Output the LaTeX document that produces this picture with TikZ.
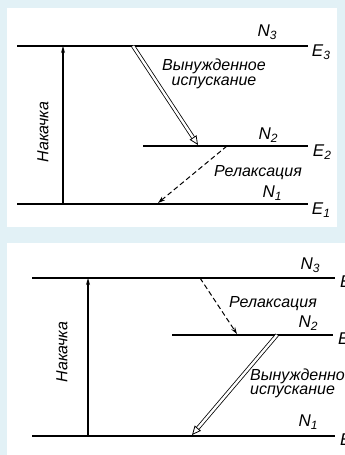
\documentclass[tikz,border=0pt]{standalone}
\usepackage{fontspec}
\setmainfont{Liberation Sans}
\usetikzlibrary{arrows.meta}
\definecolor{panelback}{RGB}{226,241,246}
\tikzset{
  level/.style={line width=2.6pt},
  pump-arrow/.style={line width=1.1pt, -{Stealth[length=7pt, width=4pt]}},
  relax-arrow/.style={
    line width=1pt,
    dash pattern=on 5pt off 3pt,
    -{Stealth[length=7pt, width=4.5pt]}
  },
  emit-arrow/.style={
    double, double distance=2.4pt, line width=0.8pt,
    -{Triangle[open, fill=white, length=9pt, width=8pt]}
  },
  lbl/.style={font=\fontsize{16}{15}\selectfont\itshape, inner sep=0pt},
  sym/.style={font=\fontsize{17}{17}\selectfont\itshape, inner sep=0pt}
}
\newcommand{\lev}[2]{#1\raisebox{-0.35ex}{\fontsize{12}{12}\selectfont #2}}

\begin{document}
\begin{tikzpicture}[x=1pt, y=1pt]
  \useasboundingbox (0,0) rectangle (345,455);
  \fill[panelback] (0,0) rectangle (345,455);
  \fill[white] (7,228) rectangle (337,447);
  \fill[white] (7,0) rectangle (345,212);

  % upper scheme: pumping into E3
  \coordinate (a3w) at (17,409);  \coordinate (a3e) at (308,409);
  \coordinate (a2w) at (143,309); \coordinate (a2e) at (308,309);
  \coordinate (a1w) at (17,251);  \coordinate (a1e) at (308,251);
  \draw[level] (a3w) -- (a3e);
  \draw[level] (a2w) -- (a2e);
  \draw[level] (a1w) -- (a1e);
  \coordinate (apump0) at (63,251); \coordinate (apump1) at (63,409);
  \draw[pump-arrow] (apump0) -- (apump1);
  \coordinate (aemit0) at (133,409); \coordinate (aemit1) at (198,310);
  \draw[emit-arrow] (aemit0) -- (aemit1);
  \coordinate (arel0) at (227,309); \coordinate (arel1) at (158,252);
  \draw[relax-arrow] (arel0) -- (arel1);
  \node[lbl, rotate=90] (apumptxt) at (43,323) {Накачка};
  \node[lbl, align=center] (aemittxt) at (214,381) {Вынужденное\\испускание};
  \node[lbl] (areltxt) at (258,282) {Релаксация};
  \node[sym] (aN3) at (267,423) {\lev{N}{3}};
  \node[sym] (aN2) at (268,320) {\lev{N}{2}};
  \node[sym] (aN1) at (272,262) {\lev{N}{1}};
  \node[sym] (aE3) at (321,403) {\lev{E}{3}};
  \node[sym] (aE2) at (322,303) {\lev{E}{2}};
  \node[sym] (aE1) at (321,245) {\lev{E}{1}};

  % lower scheme: relaxation into E2
  \coordinate (b3w) at (32,177);  \coordinate (b3e) at (335,177);
  \coordinate (b2w) at (172,120); \coordinate (b2e) at (333,120);
  \coordinate (b1w) at (32,19);   \coordinate (b1e) at (335,19);
  \draw[level] (b3w) -- (b3e);
  \draw[level] (b2w) -- (b2e);
  \draw[level] (b1w) -- (b1e);
  \coordinate (bpump0) at (88,19); \coordinate (bpump1) at (88,177);
  \draw[pump-arrow] (bpump0) -- (bpump1);
  \coordinate (brel0) at (200,177); \coordinate (brel1) at (237,121);
  \draw[relax-arrow] (brel0) -- (brel1);
  \coordinate (bemit0) at (277,120); \coordinate (bemit1) at (192,20);
  \draw[emit-arrow] (bemit0) -- (bemit1);
  \node[lbl, rotate=90] (bpumptxt) at (62,103) {Накачка};
  \node[lbl] (breltxt) at (273,151) {Релаксация};
  \node[lbl, align=left, anchor=north west,
        font=\fontsize{16}{14}\selectfont\itshape] (bemittxt) at (250,86)
        {Вынужденное\\ испускание};
  \node[sym] (bN3) at (310,190) {\lev{N}{3}};
  \node[sym] (bN2) at (308,132) {\lev{N}{2}};
  \node[sym] (bN1) at (308,33) {\lev{N}{1}};
  \node[sym, anchor=west] (bE3) at (340,172) {\lev{E}{3}};
  \node[sym, anchor=west] (bE2) at (338,115) {\lev{E}{2}};
  \node[sym, anchor=west] (bE1) at (340,14) {\lev{E}{1}};
\end{tikzpicture}
\end{document}
